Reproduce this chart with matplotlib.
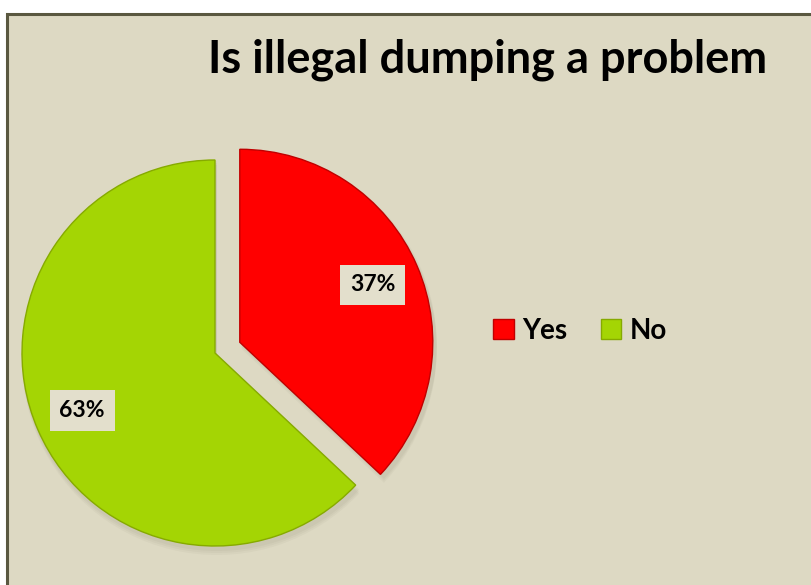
import matplotlib.pyplot as plt
from matplotlib.patches import Rectangle

answers = ['Yes', 'No']
shares = [37, 63]
slice_colors = ['#FF0000', '#A4D504']
edge_colors = ['#C00000', '#86AA00']

W, H = 812, 585
bg = '#DDD9C3'

plt.rcParams['font.family'] = ['Lato', 'DejaVu Sans']

fig = plt.figure(figsize=(W / 100, H / 100), dpi=100)
fig.patch.set_facecolor('white')
ax = fig.add_axes([0, 0, 1, 1])
ax.set_xlim(0, W)
ax.set_ylim(0, H)
ax.set_aspect('equal')
ax.axis('off')

# chart area with the dark frame on the top and left
ax.add_patch(Rectangle((7, -5), W + 10, H - 14 + 5, facecolor=bg,
                       edgecolor='#5A5840', linewidth=2.2, zorder=0))

ax.text(488, H - 60, 'Is illegal dumping a problem', ha='center', va='center',
        fontsize=32.5, fontweight='bold', color='black')

center = (215, H - 353)
radius = 193
# pie explode is in data units here (pixels)
pull = [27, 0]

# soft shadow underneath the slices
for k in range(3):
    ax.pie(shares, startangle=90, counterclock=False, explode=pull,
           center=(center[0] + 2, center[1] - 3 - 2 * k), radius=radius + 2,
           colors=['#6b6850'] * 2, wedgeprops=dict(alpha=0.05, linewidth=0))

wedges, _, pcts = ax.pie(
    shares, startangle=90, counterclock=False, explode=pull,
    center=center, radius=radius, colors=slice_colors,
    autopct='%d%%', pctdistance=0.75,
    wedgeprops=dict(linewidth=1.0),
    textprops=dict(fontsize=16.5, fontweight='bold', color='black'))
for w, ec in zip(wedges, edge_colors):
    w.set_edgecolor(ec)
for t in pcts:
    t.set_bbox(dict(boxstyle='square,pad=0.42', facecolor='#E3DFCC',
                    edgecolor='none'))
ax.set_xlim(0, W)
ax.set_ylim(0, H)

handles = [Rectangle((0, 0), 1, 1, facecolor=c, edgecolor=e)
           for c, e in zip(slice_colors, edge_colors)]
fig.legend(handles, answers, loc='center left', bbox_to_anchor=(468 / W, 1 - 331 / H),
           ncol=2, frameon=False, handlelength=0.75, handleheight=0.75,
           handletextpad=0.3, columnspacing=1.2,
           prop=dict(weight='bold', size=20))

fig.savefig('out.png', dpi=100, facecolor=fig.get_facecolor())
